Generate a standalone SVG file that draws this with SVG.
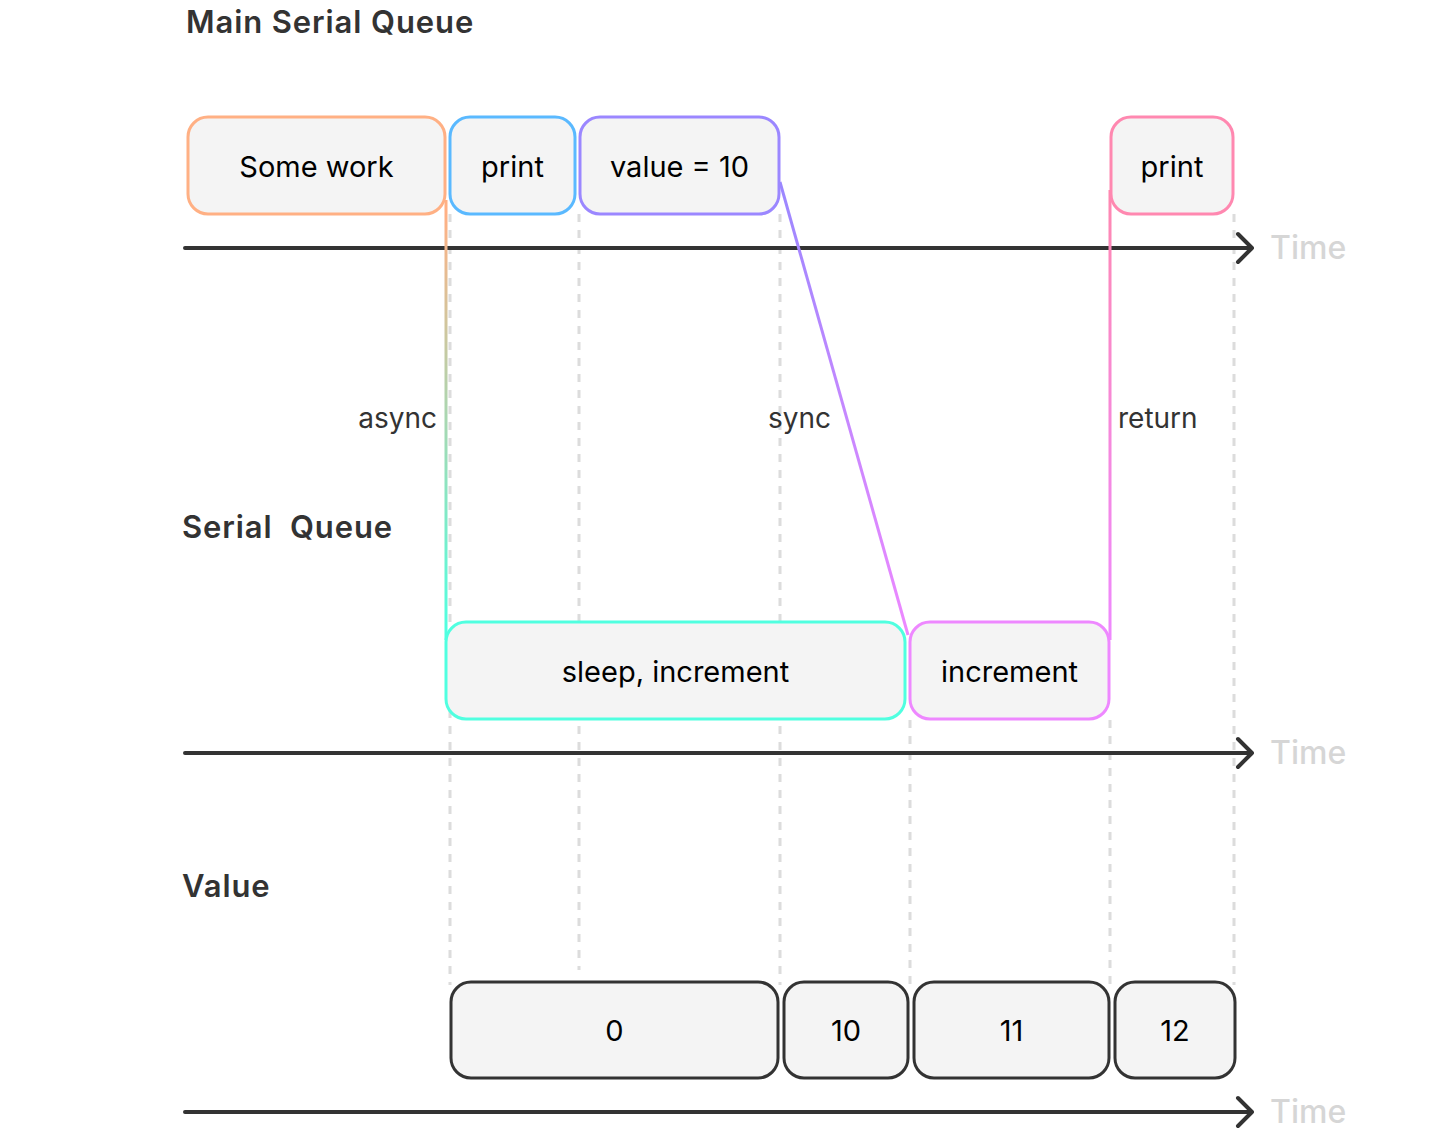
<svg xmlns="http://www.w3.org/2000/svg" width="1440" height="1133" viewBox="0 0 1440 1133">
<style>
.title{font-family:Inter,"Liberation Sans",sans-serif;font-size:31px;font-weight:600;fill:#333;letter-spacing:0.9px}
.lbl{font-family:Inter,"Liberation Sans",sans-serif;font-size:28px;fill:#333}
.time{font-family:Inter,"Liberation Sans",sans-serif;font-size:32px;font-weight:500;fill:#d6d6d6}
.bt{font-family:Inter,"Liberation Sans",sans-serif;font-size:29px;fill:#000;text-anchor:middle}
.box{fill:#f4f4f4;stroke-width:3}
.axis{stroke:#333;stroke-width:4;fill:none;stroke-linecap:round;stroke-linejoin:round}
.dash{stroke:#dcdcdc;stroke-width:3;stroke-dasharray:8 8;fill:none}
.conn{fill:none;stroke-width:3}
</style>
<defs>
<linearGradient id="gAsync" x1="0" y1="214" x2="0" y2="630" gradientUnits="userSpaceOnUse">
<stop offset="0" stop-color="#FFB084"/><stop offset="1" stop-color="#50FFE0"/>
</linearGradient>
<linearGradient id="gSync" x1="780" y1="185" x2="908" y2="635" gradientUnits="userSpaceOnUse">
<stop offset="0" stop-color="#9B87FF"/><stop offset="1" stop-color="#EE88FF"/>
</linearGradient>
<linearGradient id="gRet" x1="0" y1="640" x2="0" y2="190" gradientUnits="userSpaceOnUse">
<stop offset="0" stop-color="#EE88FF"/><stop offset="1" stop-color="#FF88B0"/>
</linearGradient>
</defs>
<rect width="1440" height="1133" fill="#fff"/>

<g id="guides">
<line class="dash" x1="450" y1="214" x2="450" y2="985"/>
<line class="dash" x1="579" y1="214" x2="579" y2="970"/>
<line class="dash" x1="780" y1="214" x2="780" y2="985"/>
<line class="dash" x1="910" y1="720" x2="910" y2="985"/>
<line class="dash" x1="1110" y1="720" x2="1110" y2="985"/>
<line class="dash" x1="1234" y1="214" x2="1234" y2="985"/>
</g>

<g id="axes">
<path class="axis" d="M185 248H1252M1238 234L1252 248L1238 262"/>
<text class="time" x="1270" y="259">Time</text>
<path class="axis" d="M185 753H1252M1238 739L1252 753L1238 767"/>
<text class="time" x="1270" y="764">Time</text>
<path class="axis" d="M185 1112H1252M1238 1098L1252 1112L1238 1126"/>
<text class="time" x="1270" y="1123">Time</text>
</g>

<g id="section-labels">
<text class="title" x="186" y="33">Main Serial Queue</text>
<text class="title" x="182" y="538" xml:space="preserve">Serial  Queue</text>
<text class="title" x="182" y="897">Value</text>
</g>

<g id="connectors">
<path class="conn" stroke="url(#gAsync)" d="M446 200V640"/>
<path class="conn" stroke="url(#gSync)" d="M780 182L908 635"/>
<path class="conn" stroke="url(#gRet)" d="M1110 640V190"/>
<text class="lbl" x="437" y="428" text-anchor="end">async</text>
<text class="lbl" x="768" y="428">sync</text>
<text class="lbl" x="1118" y="428">return</text>
</g>

<g id="n-somework"><rect class="box" x="188" y="117" width="257" height="97" rx="20" stroke="#FFB084"/><text class="bt" x="316.5" y="177">Some work</text></g>
<g id="n-print1"><rect class="box" x="450" y="117" width="125" height="97" rx="20" stroke="#5AB9FF"/><text class="bt" x="512.5" y="177">print</text></g>
<g id="n-value10"><rect class="box" x="580" y="117" width="199" height="97" rx="20" stroke="#9B87FF"/><text class="bt" x="679.5" y="177">value = 10</text></g>
<g id="n-print2"><rect class="box" x="1111" y="117" width="122" height="97" rx="20" stroke="#FF88B0"/><text class="bt" x="1172" y="177">print</text></g>

<g id="n-sleep"><rect class="box" x="446" y="622" width="459" height="97" rx="20" stroke="#50FFE0"/><text class="bt" x="675.5" y="682">sleep, increment</text></g>
<g id="n-increment"><rect class="box" x="910" y="622" width="199" height="97" rx="20" stroke="#EE88FF"/><text class="bt" x="1009.5" y="682">increment</text></g>

<g id="n-v0"><rect class="box" x="451" y="982" width="327" height="96" rx="20" stroke="#333"/><text class="bt" x="614.5" y="1041">0</text></g>
<g id="n-v10"><rect class="box" x="784" y="982" width="124" height="96" rx="20" stroke="#333"/><text class="bt" x="846" y="1041">10</text></g>
<g id="n-v11"><rect class="box" x="914" y="982" width="195" height="96" rx="20" stroke="#333"/><text class="bt" x="1011.5" y="1041">11</text></g>
<g id="n-v12"><rect class="box" x="1115" y="982" width="120" height="96" rx="20" stroke="#333"/><text class="bt" x="1175" y="1041">12</text></g>
</svg>
